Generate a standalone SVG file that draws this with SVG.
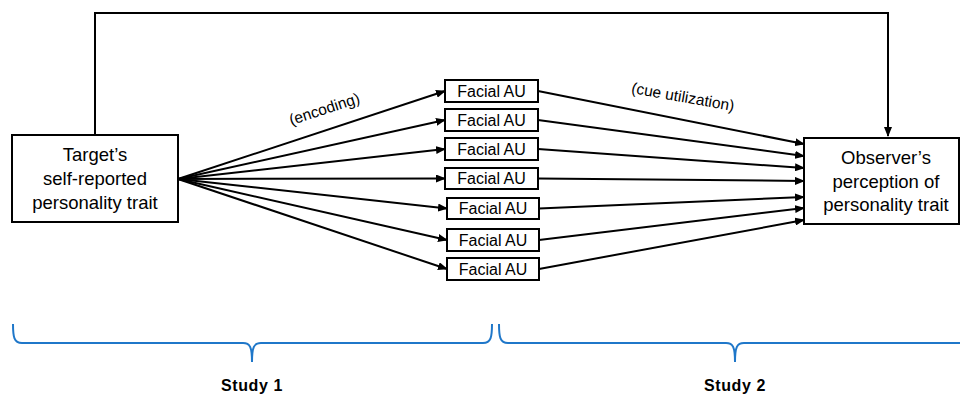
<svg xmlns="http://www.w3.org/2000/svg" width="960" height="395" viewBox="0 0 960 395">
<style>
.box{fill:#fff;stroke:#000;stroke-width:2}
.t{font-family:"Liberation Sans",Arial,sans-serif;font-size:18.5px;fill:#000;text-anchor:middle}
.au{font-family:"Liberation Sans",Arial,sans-serif;font-size:16px;fill:#000;text-anchor:middle}
.lbl{font-family:"Liberation Sans",Arial,sans-serif;font-size:15.5px;fill:#000;text-anchor:middle}
.study{font-family:"Liberation Sans",Arial,sans-serif;font-size:16px;font-weight:bold;fill:#000;text-anchor:middle;letter-spacing:0.6px}
.c{fill:none;stroke:#000;stroke-width:2}
.brace{fill:none;stroke:#1f77c9;stroke-width:2}
</style>
<defs>
<marker id="ah" markerUnits="userSpaceOnUse" markerWidth="10" markerHeight="8" refX="9" refY="4" orient="auto">
<path d="M0,0 L10,4 L0,8 Z" fill="#000"/>
</marker>
</defs>
<g id="connectors">
<path class="c" d="M95,135 V13 H888 V136" marker-end="url(#ah)"/>
<line class="c" x1="178" y1="179" x2="445" y2="91" marker-end="url(#ah)"/>
<line class="c" x1="178" y1="179" x2="445" y2="120" marker-end="url(#ah)"/>
<line class="c" x1="178" y1="179" x2="445" y2="149" marker-end="url(#ah)"/>
<line class="c" x1="178" y1="179" x2="445" y2="178.5" marker-end="url(#ah)"/>
<line class="c" x1="178" y1="179" x2="447" y2="208.5" marker-end="url(#ah)"/>
<line class="c" x1="178" y1="179" x2="447" y2="240" marker-end="url(#ah)"/>
<line class="c" x1="178" y1="179" x2="447" y2="269" marker-end="url(#ah)"/>
<line class="c" x1="538" y1="91" x2="804" y2="144" marker-end="url(#ah)"/>
<line class="c" x1="538" y1="120" x2="804" y2="156" marker-end="url(#ah)"/>
<line class="c" x1="538" y1="149" x2="804" y2="168" marker-end="url(#ah)"/>
<line class="c" x1="538" y1="178.5" x2="804" y2="181" marker-end="url(#ah)"/>
<line class="c" x1="539" y1="208.5" x2="804" y2="197" marker-end="url(#ah)"/>
<line class="c" x1="539" y1="240" x2="804" y2="208" marker-end="url(#ah)"/>
<line class="c" x1="539" y1="269" x2="804" y2="220" marker-end="url(#ah)"/>
<text class="lbl" transform="translate(326,114) rotate(-18)">(encoding)</text>
<text class="lbl" transform="translate(682,102) rotate(10)">(cue utilization)</text>
</g>
<g id="target">
<rect class="box" x="12" y="135" width="166" height="87"/>
<text class="t" x="95" y="161">Target’s</text>
<text class="t" x="95" y="185">self-reported</text>
<text class="t" x="95" y="209">personality trait</text>
</g>
<g id="au1"><rect class="box" x="445" y="80" width="93" height="22"/><text class="au" x="491.5" y="96.5">Facial AU</text></g>
<g id="au2"><rect class="box" x="445" y="109" width="93" height="22"/><text class="au" x="491.5" y="125.5">Facial AU</text></g>
<g id="au3"><rect class="box" x="445" y="138" width="93" height="22"/><text class="au" x="491.5" y="154.5">Facial AU</text></g>
<g id="au4"><rect class="box" x="445" y="168" width="93" height="21"/><text class="au" x="491.5" y="184">Facial AU</text></g>
<g id="au5"><rect class="box" x="447" y="198" width="92" height="21"/><text class="au" x="493" y="214">Facial AU</text></g>
<g id="au6"><rect class="box" x="447" y="229" width="92" height="22"/><text class="au" x="493" y="245.5">Facial AU</text></g>
<g id="au7"><rect class="box" x="447" y="258" width="92" height="22"/><text class="au" x="493" y="274.5">Facial AU</text></g>
<g id="observer">
<rect class="box" x="804" y="138" width="155" height="86"/>
<text class="t" x="886" y="164">Observer’s</text>
<text class="t" x="886" y="188">perception of</text>
<text class="t" x="886" y="211">personality trait</text>
</g>
<g id="study1">
<path class="brace" d="M13,324 C13,337 14,343 22,343 L243,343 C250,343 252,347 252,362 C252,347 254,343 261,343 L483,343 C491,343 492,337 492,324"/>
<text class="study" x="252" y="391">Study 1</text>
</g>
<g id="study2">
<path class="brace" d="M499,324 C499,337 500,343 508,343 L726,343 C733,343 735,347 735,362 C735,347 737,343 744,343 L962,343"/>
<text class="study" x="735" y="391">Study 2</text>
</g>
</svg>
